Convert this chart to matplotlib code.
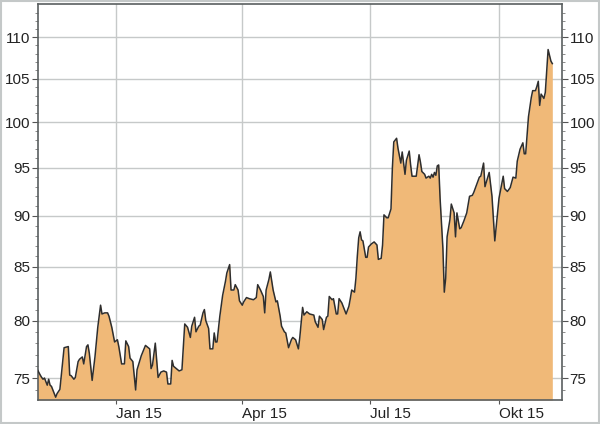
import matplotlib
matplotlib.use("Agg")
import matplotlib.pyplot as plt
import matplotlib.dates as mdates
from matplotlib.ticker import FixedLocator, FixedFormatter, NullFormatter
from matplotlib.patches import Rectangle
import numpy as np
import pandas as pd

# Tage relativ zum 1. Januar 2015 und Kurswerte
day_offset = [
    -56, -54, -53, -52, -51, -49, -48, -47, -46, -43, -42, -40, -37, -34, -33, -32,
    -30, -29, -27, -26, -24, -23, -21, -20, -19, -17, -15, -13, -11, -10, -8, -6,
    -5, -3, -1, 1, 2, 4, 6, 7, 9, 10, 12, 14, 15, 18, 21, 22,
    24, 25, 26, 28, 29, 30, 32, 34, 36, 37, 39, 40, 41, 43, 45, 47,
    49, 51, 53, 54, 56, 57, 59, 60, 62, 63, 64, 66, 67, 69, 70, 71,
    72, 74, 76, 78, 79, 81, 82, 84, 85, 87, 88, 90, 91, 93, 95, 98,
    100, 101, 103, 105, 106, 107, 109, 110, 112, 114, 115, 117, 118, 120, 121, 123,
    125, 126, 128, 130, 131, 133, 134, 136, 138, 141, 142, 144, 145, 147, 148, 150,
    151, 152, 154, 155, 157, 158, 159, 161, 164, 166, 167, 168, 170, 171, 172, 173,
    174, 175, 176, 178, 179, 180, 182, 184, 186, 187, 189, 190, 191, 193, 194, 196,
    197, 198, 200, 201, 203, 204, 206, 207, 209, 210, 211, 214, 216, 217, 218, 220,
    221, 223, 224, 225, 226, 227, 228, 229, 230, 231, 233, 234, 235, 236, 238, 239,
    241, 242, 243, 245, 246, 248, 250, 252, 254, 255, 257, 259, 260, 262, 263, 265,
    266, 268, 270, 272, 273, 276, 277, 279, 281, 283, 285, 286, 288, 290, 291, 292,
    294, 296, 297, 299, 300, 301, 302, 303, 305, 306, 307, 308, 310, 311,
]
kurs = [
    75.7, 75.25, 75.05, 74.9, 75.0, 74.4, 74.9, 74.4, 74.3, 73.4, 73.7, 74.05, 77.6, 77.7, 75.25, 75.2,
    74.9, 75.05, 76.4, 76.6, 76.8, 76.2, 77.7, 77.85, 77.1, 74.8, 76.8, 79.4, 81.4, 80.6, 80.7, 80.7,
    80.4, 79.4, 78.1, 78.3, 77.7, 76.2, 76.2, 78.2, 77.7, 76.7, 76.4, 74.0, 75.7, 76.9, 77.8, 77.7,
    77.5, 75.8, 76.1, 78.0, 76.5, 75.05, 75.5, 75.6, 75.5, 74.5, 74.5, 76.5, 76.0, 75.8, 75.6, 75.7,
    79.7, 79.4, 78.5, 79.5, 80.3, 79.0, 79.5, 79.6, 80.7, 81.0, 80.0, 79.3, 77.5, 77.5, 78.9, 78.1,
    78.1, 80.4, 82.3, 83.6, 84.4, 85.2, 82.8, 82.8, 83.3, 82.8, 81.8, 81.4, 81.7, 82.1, 82.0, 81.9,
    82.1, 83.3, 82.8, 82.2, 80.7, 82.8, 83.8, 84.5, 82.8, 81.7, 81.8, 80.4, 79.5, 79.0, 78.9, 77.6,
    78.3, 78.5, 78.3, 77.5, 78.5, 81.2, 80.5, 80.8, 80.6, 80.5, 79.9, 79.4, 80.4, 80.1, 79.2, 80.3,
    80.4, 82.2, 81.9, 82.0, 80.6, 80.6, 82.0, 81.6, 80.6, 81.3, 82.0, 82.8, 82.6, 83.9, 86.0, 87.8,
    88.4, 87.6, 87.5, 85.9, 85.9, 86.9, 87.2, 87.4, 87.1, 85.7, 85.8, 87.1, 90.1, 89.8, 89.8, 90.7,
    95.0, 97.8, 98.2, 97.1, 95.5, 96.7, 94.3, 95.8, 96.8, 95.3, 94.1, 94.1, 96.4, 95.6, 94.6, 94.3,
    93.9, 94.1, 93.9, 94.3, 94.0, 94.5, 94.2, 95.2, 95.3, 91.8, 86.8, 82.6, 83.9, 87.9, 89.6, 91.2,
    90.3, 87.9, 90.3, 88.7, 88.8, 89.5, 90.3, 92.0, 92.1, 92.4, 93.2, 94.0, 94.1, 95.5, 93.0, 94.0,
    94.5, 92.0, 87.5, 90.3, 91.8, 94.1, 92.8, 92.5, 92.9, 94.0, 93.9, 95.7, 97.0, 97.7, 96.5, 96.5,
    100.6, 102.8, 103.6, 103.6, 104.1, 104.7, 101.9, 103.2, 102.7, 103.4, 106.0, 108.5, 107.1, 106.8,
]

y_ticks = [75, 80, 85, 90, 95, 100, 105, 110]
x_tick_dates = ["2015-01-01", "2015-04-01", "2015-07-01", "2015-10-01"]
x_tick_labels = ["Jan 15", "Apr 15", "Jul 15", "Okt 15"]

plt.rcParams["font.family"] = ["Liberation Sans", "DejaVu Sans"]

start = pd.Timestamp("2015-01-01")
dates = start + pd.to_timedelta(day_offset, unit="D")
y_min, y_max = 73.17, 114.2

fig = plt.figure(figsize=(6, 4.24), dpi=100)
fig.patch.set_facecolor("white")
fig.patches.append(Rectangle((0.001, 0.003), 0.997, 0.994, transform=fig.transFigure,
                             fill=False, edgecolor="#c4c8c8", linewidth=1.5))
ax = fig.add_axes([38 / 600, 1 - 400 / 424, 524 / 600, 396 / 424])

ax.fill_between(dates, kurs, y_min, color="#f0b978", linewidth=0, zorder=2)
ax.plot(dates, kurs, color="#2e2e2e", linewidth=1.1, zorder=3)

ax.set_yscale("log")
ax.set_ylim(y_min, y_max)
ax.set_xlim(start - pd.Timedelta(days=55.6), start + pd.Timedelta(days=317.9))

ax.yaxis.set_major_locator(FixedLocator(y_ticks))
ax.yaxis.set_major_formatter(FixedFormatter([str(v) for v in y_ticks]))
ax.yaxis.set_minor_locator(FixedLocator(np.arange(74, 114)))
ax.yaxis.set_minor_formatter(NullFormatter())

tick_dates = [mdates.date2num(pd.Timestamp(d)) for d in x_tick_dates]
ax.xaxis.set_major_locator(FixedLocator(tick_dates))
ax.xaxis.set_major_formatter(FixedFormatter(x_tick_labels))
ax.xaxis.set_minor_locator(FixedLocator([]))

ax.grid(True, which="major", color="#c6c9c9", linewidth=1.0, zorder=1)
ax.set_axisbelow(True)

ax.tick_params(axis="y", which="major", left=True, right=True, labelleft=True, labelright=True,
               length=4, width=0.8, color="#555555", labelsize=11, labelcolor="#222222", pad=1.5)
ax.tick_params(axis="y", which="minor", left=True, right=True, length=2, width=0.6, color="#777777")
ax.tick_params(axis="x", which="major", length=3, width=0.8, color="#555555",
               labelsize=11, labelcolor="#222222", pad=2)
for lbl in ax.get_xticklabels():
    lbl.set_horizontalalignment("left")

for side in ["left", "right", "top", "bottom"]:
    ax.spines[side].set_color("#5a5f60")
    ax.spines[side].set_linewidth(1.2)

fig.savefig("out.png", dpi=100)
